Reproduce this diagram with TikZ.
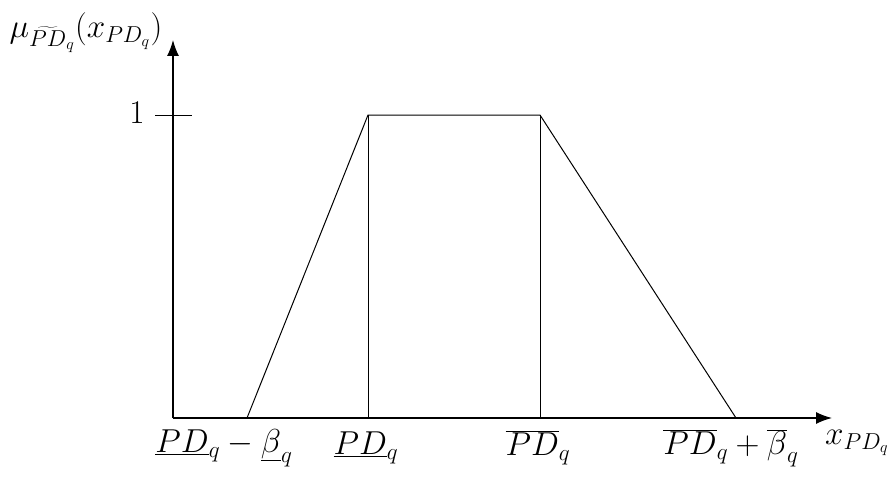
\documentclass[tikz,border=0pt]{standalone}
\usetikzlibrary{arrows.meta}
\begin{document}
\begin{tikzpicture}[x=0.75pt,y=-0.75pt,
  axis/.style={line width=1pt,-{Latex[length=12pt,width=9pt]}},
  curve/.style={line width=0.75pt},
  lab/.style={inner sep=1pt,font=\fontsize{25}{30}\selectfont}]
\useasboundingbox[fill=white] (0,0) rectangle (892,478);
\coordinate (O) at (173,418);
\coordinate (Ytip) at (173,40);
\coordinate (Xtip) at (832,418);
\coordinate (A) at (247,418);
\coordinate (B) at (368,115);
\coordinate (C) at (540,115);
\coordinate (D) at (736,418);
\coordinate (Bb) at (368,418);
\coordinate (Cb) at (540,418);
\coordinate (T1) at (155,115);
\coordinate (T2) at (192,115);
\draw[axis] (O) -- (Ytip);
\draw[axis] (O) -- (Xtip);
\draw[curve] (T1) -- (T2);
\draw[curve] (A) -- (B) -- (C) -- (D);
\draw[curve] (B) -- (Bb);
\draw[curve] (C) -- (Cb);
\node[lab] (one) at (137,113) {$1$};
\node[lab] (ylab) at (86,33) {$\mu_{\widetilde{PD}_{q}}(x_{PD_q})$};
\node[lab] (xlab) at (857,443) {$x_{PD_q}$};
\node[lab] (l1) at (224,448) {$\underline{PD}_q-\underline{\beta}_q$};
\node[lab] (l2) at (366,448) {$\underline{PD}_q$};
\node[lab] (l3) at (538,448) {$\overline{PD}_q$};
\node[lab] (l4) at (731,448) {$\overline{PD}_q+\overline{\beta}_q$};
\end{tikzpicture}
\end{document}
